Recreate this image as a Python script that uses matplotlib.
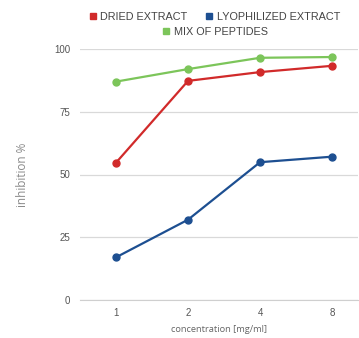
import matplotlib.pyplot as plt
from matplotlib.lines import Line2D

concentrations = ["1", "2", "4", "8"]
dried = [54.7, 87.3, 90.8, 93.3]
lyophilized = [17.0, 32.0, 54.9, 57.1]
peptides = [87.0, 92.0, 96.5, 96.8]

series = [
    ("DRIED EXTRACT", dried, "#d12a2a"),
    ("LYOPHILIZED EXTRACT", lyophilized, "#1d4f91"),
    ("MIX OF PEPTIDES", peptides, "#7cc55a"),
]

plt.rcParams["font.family"] = ["Liberation Sans", "DejaVu Sans"]

fig = plt.figure(figsize=(3.59, 3.38), dpi=100)
ax = fig.add_axes([80 / 359, 1 - 300 / 338, 278 / 359, 251 / 338])

x = list(range(len(concentrations)))
handles = []
for label, values, color in series:
    ax.plot(x, values, color=color, lw=1.6, marker="o", ms=5, clip_on=False, zorder=3)
    handles.append(Line2D([], [], color=color, marker="s", ls="none", ms=5, label=label))

ax.set_xlim(-0.5, 3.36)
ax.set_ylim(0, 100)
ax.set_yticks([0, 25, 50, 75, 100])
ax.set_xticks(x, concentrations)
ax.grid(axis="y", color="#d9d9d9", lw=0.9)
ax.set_axisbelow(True)
for side in ["top", "right", "left"]:
    ax.spines[side].set_visible(False)
ax.spines["bottom"].set_color("#cfcfcf")
ax.tick_params(length=0, labelsize=7, colors="#555555")
ax.tick_params(axis="y", pad=7)
ax.tick_params(axis="x", pad=6)

ax.set_ylabel("inhibition %", fontsize=8.5, color="#8a8a8a", family="Open Sans", labelpad=18)
ax.set_xlabel("concentration [mg/ml]", fontsize=6.7, color="#666666", family="Open Sans", labelpad=5)

leg1 = fig.legend(handles=handles[:2], loc="center", bbox_to_anchor=(0.598, 1 - 17 / 338),
                  ncol=2, frameon=False, fontsize=7.8, handlelength=0.6, handletextpad=0.4,
                  columnspacing=1.7, borderpad=0)
for t in leg1.get_texts():
    t.set_color("#444444")
leg2 = fig.legend(handles=handles[2:], loc="center", bbox_to_anchor=(0.6, 1 - 32 / 338),
                  frameon=False, fontsize=7.8, handlelength=0.6, handletextpad=0.4, borderpad=0)
for t in leg2.get_texts():
    t.set_color("#444444")

fig.savefig("out.png", dpi=100)
